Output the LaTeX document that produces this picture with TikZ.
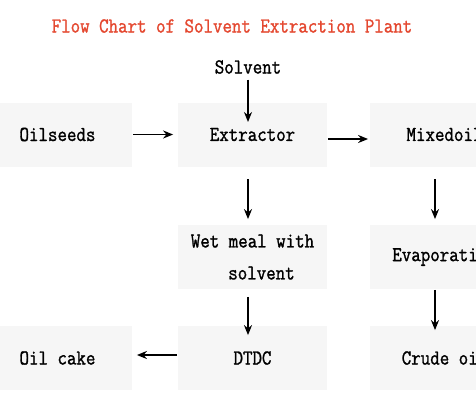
\documentclass[tikz,border=0pt]{standalone}
\usepackage{fontspec}
\usepackage{xcolor}
\usepackage{tikz}
\usetikzlibrary{arrows.meta}
\newfontfamily\chartfont[FakeStretch=0.865,FakeBold=1.3]{Latin Modern Mono}
\definecolor{boxgray}{RGB}{246,246,246}
\definecolor{titlered}{RGB}{228,72,48}
\tikzset{
	main node/.style={fill=boxgray,minimum width=149pt,minimum height=64pt,inner sep=0pt,
		font=\chartfont\fontsize{21.3}{26}\selectfont,align=center},
	label node/.style={inner sep=0pt,font=\chartfont\fontsize{21.3}{26}\selectfont}
}

\begin{document}
\begin{tikzpicture}[x=1pt,y=-1pt,->,>={Stealth[length=10pt,width=8pt]},line width=1.8pt]
	\useasboundingbox (0,0) rectangle (476,400);
	\clip (0,0) rectangle (476,400);
	\node [label node,text=titlered] (t) at (232,26) {Flow Chart of Solvent Extraction Plant};
	\node [label node] (0) at (248,67) {Solvent};
	\node [main node] (1) at (57.5,134.5) {Oilseeds};
	\node [main node] (2) at (252.5,134.5) {Extractor};
	\node [main node] (3) at (444.5,134.5) {Mixedoil};
	\node [main node] (4) at (252.5,257) {Wet meal with\\[6pt]\hspace*{18pt}solvent};
	\node [main node] (5) at (444.5,257) {Evaporation};
	\node [main node] (6) at (57.5,358) {Oil cake};
	\node [main node] (7) at (252.5,358) {DTDC};
	\node [main node] (8) at (444.5,358) {Crude oil};
	% top row
	\draw [shorten <=5pt,shorten >=12.5pt] (0.south) -- (0.south |- 2.center);
	\draw [shorten >=4pt] (1.east) -- (2.west);
	\draw [shorten >=1pt] ([yshift=-4.5pt]2.east) -- ([yshift=-4.5pt]3.west);
	% down
	\draw [shorten <=12pt,shorten >=5pt] ([xshift=-4.5pt]2.south) -- ([xshift=-4.5pt]4.north);
	\draw [shorten <=12pt,shorten >=5pt] ([xshift=-9.5pt]3.south) -- ([xshift=-9.5pt]5.north);
	\draw [shorten <=7pt,shorten >=-10pt] ([xshift=-4.5pt]4.south) -- ([xshift=-4.5pt]7.north);
	\draw [shorten >=-5pt] ([xshift=-9.5pt]5.south) -- ([xshift=-9.5pt]8.north);
	\draw [shorten >=4pt] ([yshift=3pt]7.west) -- ([yshift=3pt]6.east);
\end{tikzpicture}
\end{document}
